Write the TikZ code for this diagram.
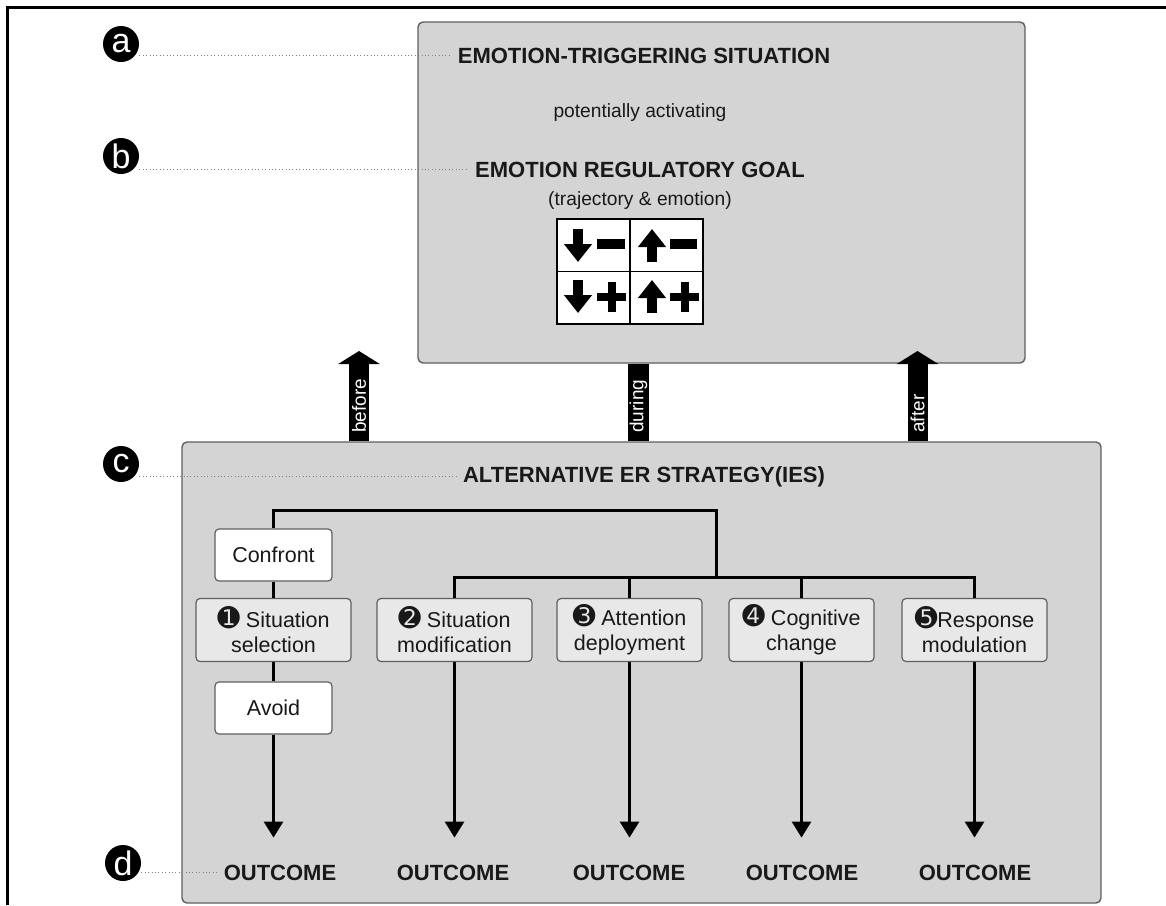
\documentclass[tikz,border=0pt]{standalone}
\usepackage{fontspec}
\setmainfont{Liberation Sans}
\newfontfamily\dingfont{DejaVu Sans}
\usetikzlibrary{arrows.meta}
\definecolor{boxgray}{RGB}{212,212,212}
\definecolor{lightbox}{RGB}{232,232,232}
\definecolor{edgegray}{RGB}{95,95,95}
\definecolor{ink}{RGB}{25,25,25}
\newcommand{\dnum}[1]{{\dingfont\fontsize{13.5}{12.5}\selectfont #1}}

\begin{document}
\begin{tikzpicture}
[x=0.5pt,y=-0.5pt,>={Triangle[width=9.5pt,length=8pt]},
panel/.style = {draw=edgegray, line width=0.7pt, fill=boxgray, rounded corners=2.5pt, inner sep=0pt},
stage/.style = {draw=edgegray, line width=0.6pt, fill=lightbox, rounded corners=2pt, minimum height=31.5pt, inner sep=0pt, align=center, font=\fontsize{10.75}{12.5}\selectfont, text=ink},
choice/.style = {draw=edgegray, line width=0.6pt, fill=white, rounded corners=2pt, minimum width=58.5pt, minimum height=26pt, inner sep=0pt, font=\fontsize{10.75}{13}\selectfont, text=ink},
head/.style = {anchor=base, font=\bfseries\fontsize{11}{13}\selectfont, text=ink},
sub/.style = {anchor=base, font=\fontsize{9.6}{11}\selectfont, text=ink},
tag/.style = {circle, fill=black, text=white, minimum size=18pt, inner sep=0pt, font=\fontsize{17}{17}\selectfont},
leader/.style = {draw=gray, line width=0.6pt, dash pattern=on 0.5pt off 1.2pt},
tree/.style = {line width=1.5pt, black},
flow/.style = {tree, ->, shorten >=10pt},
blockarrow/.style = {line width=10pt, -{Triangle[width=20.5pt,length=6.5pt]}},
blockbar/.style = {line width=10.5pt},
vlabel/.style = {rotate=90, anchor=west, text=white, font=\fontsize{9.5}{11}\selectfont, inner sep=0pt},
goalarrow/.style = {line width=5pt, -{Triangle[width=13.5pt,length=9pt]}},
]
\useasboundingbox (0,0) rectangle (1166,905);
\draw[line width=1.5pt] (7.5,905) -- (7.5,7.5) -- (1166,7.5);

\node[panel, minimum width=303.5pt, minimum height=170.5pt] (topbox) at (721.5,192.5) {};
\node[head] (trig) at (644,63) {EMOTION-TRIGGERING SITUATION};
\node[sub] (activ) at (640,117) {potentially activating};
\node[head] (goal) at (640,177) {EMOTION REGULATORY GOAL};
\node[sub] (traj) at (640,205) {(trajectory \& emotion)};
\node[draw=black, line width=0.6pt, fill=white, minimum width=73pt, minimum height=52.5pt, inner sep=0pt] (grid) at (630,271.5) {};
\draw[line width=0.6pt] (grid.north) -- (grid.south);
\draw[line width=0.6pt] (grid.west) -- (grid.east);
\draw[goalarrow] (578,229) -- (578,262);
\draw[line width=5pt] (597,244) -- (625,244);
\draw[goalarrow] (652,262) -- (652,229);
\draw[line width=5pt] (670,244) -- (697,244);
\draw[goalarrow] (578,280) -- (578,313);
\draw[line width=4pt] (597,297) -- (626,297) (611.5,282) -- (611.5,312);
\draw[goalarrow] (652,313) -- (652,280);
\draw[line width=4pt] (670,297) -- (699,297) (684.5,282) -- (684.5,312);

\node[panel, minimum width=459.5pt, minimum height=230.5pt] (iesbox) at (641.5,672.5) {};
\node[head] (ies) at (644,482) {ALTERNATIVE ER STRATEGY(IES)};

\coordinate (beftip) at (359,351);
\coordinate (afttip) at (917.5,351);
\coordinate (durx) at (638.5,400);
\draw[blockarrow] (beftip |- iesbox.north) -- (beftip);
\draw[blockarrow] (afttip |- iesbox.north) -- (afttip);
\draw[blockbar] (durx |- topbox.south) -- (durx |- iesbox.north);
\node[vlabel] (beftxt) at (359,433) {before};
\node[vlabel] (durtxt) at (638.5,433) {during};
\node[vlabel] (afttxt) at (917.5,433) {after};

\node[stage, minimum width=77.5pt] (sitsel) at (273.5,630) {\dnum{➊} Situation\\selection};
\node[stage, minimum width=77.5pt] (sitmod) at (454.5,630) {\dnum{➋} Situation\\modification};
\node[stage, minimum width=72.5pt] (attdep) at (629.5,630) {\dnum{➌} Attention\\deployment};
\node[stage, minimum width=72.5pt] (cogch) at (801.5,630) {\dnum{➍} Cognitive\\change};
\node[stage, minimum width=72.5pt] (resmod) at (974.5,630) {\dnum{➎}Response\\modulation};
\node[choice] (confront) at (273.5,555) {Confront};
\node[choice] (avoid) at (273.5,708) {Avoid};

\node[head] (out1) at (280,880) {OUTCOME};
\node[head] (out2) at (453,880) {OUTCOME};
\node[head] (out3) at (629,880) {OUTCOME};
\node[head] (out4) at (802,880) {OUTCOME};
\node[head] (out5) at (975,880) {OUTCOME};

\coordinate (t2) at (716,510);
\coordinate (h2) at (716,577);
\draw[tree] (confront.north) |- (t2) -- (h2);
\draw[tree] (sitmod.north) |- (h2) -| (resmod.north);
\draw[tree] (attdep.north) -- (attdep.north |- h2);
\draw[tree] (cogch.north) -- (cogch.north |- h2);
\draw[tree] (confront) -- (sitsel);
\draw[tree] (sitsel) -- (avoid);
\draw[flow] (avoid.south) -- (avoid.south |- out1.north);
\draw[flow] (sitmod.south) -- (sitmod.south |- out2.north);
\draw[flow] (attdep.south) -- (attdep.south |- out3.north);
\draw[flow] (cogch.south) -- (cogch.south |- out4.north);
\draw[flow] (resmod.south) -- (resmod.south |- out5.north);

\node[tag] (la) at (121,44) {a};
\node[tag] (lb) at (121,156) {b};
\node[tag] (lc) at (121,464) {c};
\node[tag] (ld) at (123,863) {d};
\draw[leader] (la.east |- trig.west) -- (trig.west);
\draw[leader] (lb.east |- goal.west) -- (goal.west);
\draw[leader] (lc.east |- ies.west) -- (ies.west);
\draw[leader] (ld.east |- out1.west) -- (out1.west);
\end{tikzpicture}
\end{document}
